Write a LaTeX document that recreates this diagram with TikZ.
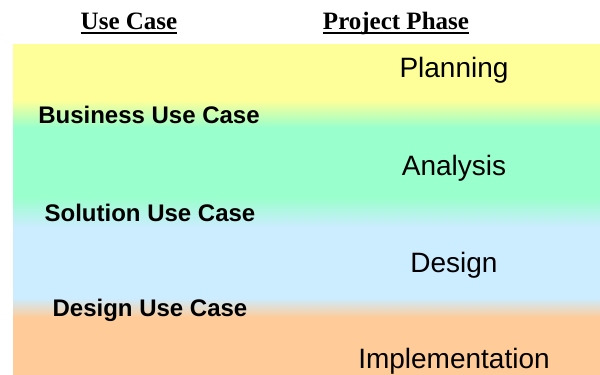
\documentclass[tikz,border=0pt]{standalone}
\usepackage{fontspec}
\setmainfont{Liberation Serif}
\setsansfont{Liberation Sans}
\begin{document}
\begin{tikzpicture}[x=1pt,y=-1pt,
  head/.style={anchor=base,inner sep=0pt,font=\fontsize{25}{28}\selectfont\bfseries},
  uline/.style={line width=1.6pt},
  uclabel/.style={anchor=base,inner sep=0pt,font=\sffamily\bfseries\fontsize{24}{28}\selectfont},
  phase/.style={anchor=base,inner sep=0pt,font=\sffamily\fontsize{28}{30}\selectfont}]
\definecolor{cyel}{HTML}{FFFF99}
\definecolor{cgrn}{HTML}{99FFCC}
\definecolor{cblu}{HTML}{CCECFF}
\definecolor{corg}{HTML}{FFCC99}
\useasboundingbox (0,0) rectangle (600,375);
% background bands
\fill[cyel] (13,44) rectangle (600,100.5);
\shade[top color=cyel,bottom color=cgrn] (13,100) rectangle (600,127.5);
\fill[cgrn] (13,127) rectangle (600,197.5);
\shade[top color=cgrn,bottom color=cblu] (13,197) rectangle (600,227.5);
\fill[cblu] (13,227) rectangle (600,298.5);
\shade[top color=cblu,bottom color=corg] (13,298) rectangle (600,317.5);
\fill[corg] (13,317) rectangle (600,375);
% headings
\node[head] (huc) at (129,29) {Use Case};
\node[head] (hpp) at (396,29) {Project Phase};
\draw[uline] ([yshift=-4pt]huc.base west) -- ([yshift=-4pt]huc.base east);
\draw[uline] ([yshift=-4pt]hpp.base west) -- ([yshift=-4pt]hpp.base east);
% use cases
\node[uclabel] (buc) at (149,123) {Business Use Case};
\node[uclabel] (suc) at (150,221) {Solution Use Case};
\node[uclabel] (duc) at (150,316) {Design Use Case};
% phases
\node[phase] (plan) at (454,77.5) {Planning};
\node[phase] (ana) at (454,175) {Analysis};
\node[phase] (des) at (454,272) {Design};
\node[phase] (imp) at (454,368) {Implementation};
\end{tikzpicture}
\end{document}
